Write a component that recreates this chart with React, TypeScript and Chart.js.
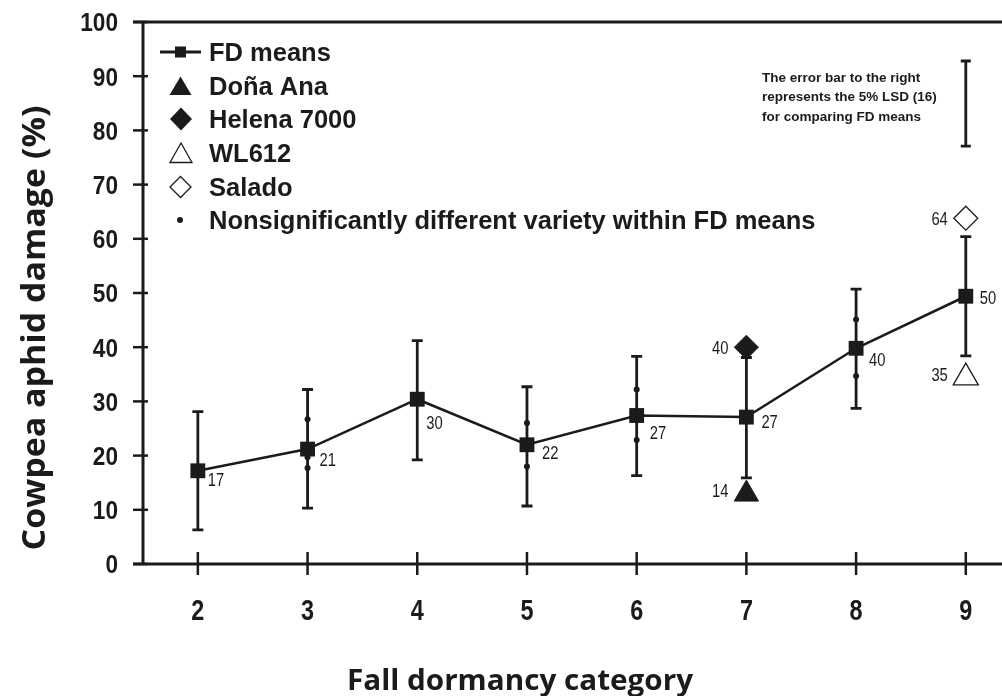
import React, { useEffect, useRef } from "react";
import { Chart, registerables } from "chart.js";

Chart.register(...registerables);

// ---------- data ----------
const categories = [2, 3, 4, 5, 6, 7, 8, 9];
const fdMeans = [17.2, 21.2, 30.4, 22.0, 27.4, 27.1, 39.8, 49.4];
const fdUpper = [28.1, 32.2, 41.2, 32.7, 38.3, 38.1, 50.7, 60.4];
const fdLower = [6.3, 10.3, 19.2, 10.7, 16.3, 15.9, 28.7, 38.4];
const fdLabels = ["17", "21", "30", "22", "27", "27", "40", "50"];

const nsX = [3, 3, 3, 5, 5, 6, 6, 8, 8];
const nsY = [26.7, 19.7, 17.7, 26.0, 18.0, 32.2, 22.9, 45.1, 34.7];

const donaAnaX = [7];
const donaAnaY = [12.9];
const donaAnaLabels = ["14"];

const helenaX = [7];
const helenaY = [40.0];
const helenaLabels = ["40"];

const wl612X = [9];
const wl612Y = [34.4];
const wl612Labels = ["35"];

const saladoX = [9];
const saladoY = [63.8];
const saladoLabels = ["64"];

const lsdX = 9;
const lsdTop = 92.8;
const lsdBottom = 77.1;

const yTicks = [0, 10, 20, 30, 40, 50, 60, 70, 80, 90, 100];
const xTicks = categories;

const legendLabels = [
  "FD means",
  "Doña Ana",
  "Helena 7000",
  "WL612",
  "Salado",
  "Nonsignificantly different variety within FD means",
];
const noteLines = [
  "The error bar to the right",
  "represents the 5% LSD (16)",
  "for comparing FD means",
];
const xTitle = "Fall dormancy category";
const yTitle = "Cowpea aphid damage (%)";

// ---------- style / layout ----------
const INK = "#1b1b1b";
// label offsets (px) relative to the FD point: [dx to label left, dy of label centre]
const fdLabelOffsets: [number, number][] = [
  [10, 9], [12, 10], [9, 23], [15, 8], [13, 17], [15, 4], [13, 11], [14, 1],
];

function pts(xs: number[], ys: number[]) {
  return xs.map((x, i) => ({ x, y: ys[i] }));
}

function drawText(
  ctx: CanvasRenderingContext2D,
  s: string,
  x: number,
  cy: number,
  size: number,
  weight: string,
  family: string,
  align: CanvasTextAlign,
  sx = 1,
  capRatio = 0.716
) {
  ctx.save();
  ctx.font = `${weight} ${size}px ${family}`;
  ctx.textAlign = align;
  ctx.textBaseline = "alphabetic";
  ctx.fillStyle = INK;
  ctx.translate(x, cy + (capRatio * size) / 2);
  ctx.scale(sx, 1);
  ctx.fillText(s, 0, 0);
  ctx.restore();
}

const SANS = "'Liberation Sans', Arial, sans-serif";
const HUMAN = "'Open Sans', 'Noto Sans', sans-serif";

const decor = {
  id: "decor",
  beforeDatasetsDraw(chart: any) {
    const ctx: CanvasRenderingContext2D = chart.ctx;
    const xs = chart.scales.x;
    const ys = chart.scales.y;
    const a = chart.chartArea;
    ctx.save();
    ctx.strokeStyle = INK;
    ctx.lineCap = "butt";

    // axes
    ctx.lineWidth = 3;
    ctx.beginPath();
    ctx.moveTo(a.left, a.top);
    ctx.lineTo(a.left, a.bottom);
    ctx.stroke();
    ctx.beginPath();
    ctx.moveTo(a.left - 10, a.bottom);
    ctx.lineTo(chart.width, a.bottom);
    ctx.stroke();
    ctx.beginPath();
    ctx.moveTo(a.left - 10, a.top);
    ctx.lineTo(chart.width, a.top);
    ctx.stroke();

    // ticks
    ctx.lineWidth = 2.5;
    yTicks.forEach((v) => {
      const py = ys.getPixelForValue(v);
      ctx.beginPath();
      ctx.moveTo(a.left - 10, py);
      ctx.lineTo(a.left + 5, py);
      ctx.stroke();
    });
    xTicks.forEach((v) => {
      const px = xs.getPixelForValue(v);
      ctx.beginPath();
      ctx.moveTo(px, a.bottom - 12);
      ctx.lineTo(px, a.bottom + 11);
      ctx.stroke();
    });

    // error bars
    ctx.lineWidth = 2.8;
    categories.forEach((c, i) => {
      const px = xs.getPixelForValue(c);
      const t = ys.getPixelForValue(fdUpper[i]);
      const b = ys.getPixelForValue(fdLower[i]);
      ctx.beginPath();
      ctx.moveTo(px, t);
      ctx.lineTo(px, b);
      ctx.moveTo(px - 5.5, t);
      ctx.lineTo(px + 5.5, t);
      ctx.moveTo(px - 5.5, b);
      ctx.lineTo(px + 5.5, b);
      ctx.stroke();
    });

    // LSD bar
    {
      const px = xs.getPixelForValue(lsdX);
      const t = ys.getPixelForValue(lsdTop);
      const b = ys.getPixelForValue(lsdBottom);
      ctx.beginPath();
      ctx.moveTo(px, t);
      ctx.lineTo(px, b);
      ctx.moveTo(px - 5, t);
      ctx.lineTo(px + 5, t);
      ctx.moveTo(px - 5, b);
      ctx.lineTo(px + 5, b);
      ctx.stroke();
    }
    ctx.restore();
  },
  afterDatasetsDraw(chart: any) {
    const ctx: CanvasRenderingContext2D = chart.ctx;
    const xs = chart.scales.x;
    const ys = chart.scales.y;

    // tick labels
    yTicks.forEach((v) => {
      drawText(ctx, String(v), 118, ys.getPixelForValue(v), 26, "bold", SANS, "right", 0.87);
    });
    xTicks.forEach((v) => {
      drawText(ctx, String(v), xs.getPixelForValue(v), 609, 30, "bold", SANS, "center", 0.78);
    });

    // FD labels
    categories.forEach((c, i) => {
      const px = xs.getPixelForValue(c) + fdLabelOffsets[i][0];
      const py = ys.getPixelForValue(fdMeans[i]) + fdLabelOffsets[i][1];
      drawText(ctx, fdLabels[i], px, py, 18, "normal", SANS, "left", 0.82);
    });
    // variety labels (left of marker)
    const varLabel = (xv: number[], yv: number[], lab: string[], dy: number) => {
      xv.forEach((x, i) => {
        const px = xs.getPixelForValue(x) - 18;
        const py = ys.getPixelForValue(yv[i]) + dy;
        drawText(ctx, lab[i], px, py, 18, "normal", SANS, "right", 0.82);
      });
    };
    varLabel(donaAnaX, donaAnaY, donaAnaLabels, -4);
    varLabel(helenaX, helenaY, helenaLabels, 0);
    varLabel(wl612X, wl612Y, wl612Labels, -3);
    varLabel(saladoX, saladoY, saladoLabels, 0);

    // legend
    const rows = [52, 86, 119, 153, 187, 220];
    ctx.save();
    ctx.fillStyle = INK;
    ctx.strokeStyle = INK;
    // FD means
    ctx.lineWidth = 3;
    ctx.beginPath();
    ctx.moveTo(160, rows[0]);
    ctx.lineTo(201, rows[0]);
    ctx.stroke();
    ctx.fillRect(175, rows[0] - 5.5, 11, 11);
    // Doña Ana
    ctx.beginPath();
    ctx.moveTo(180.5, rows[1] - 9.5);
    ctx.lineTo(191.5, rows[1] + 9);
    ctx.lineTo(169.5, rows[1] + 9);
    ctx.closePath();
    ctx.fill();
    // Helena
    ctx.beginPath();
    ctx.moveTo(181, rows[2] - 11.5);
    ctx.lineTo(192, rows[2]);
    ctx.lineTo(181, rows[2] + 11.5);
    ctx.lineTo(170, rows[2]);
    ctx.closePath();
    ctx.fill();
    // WL612
    ctx.lineWidth = 1.3;
    ctx.beginPath();
    ctx.moveTo(181, rows[3] - 10);
    ctx.lineTo(192, rows[3] + 9.5);
    ctx.lineTo(170, rows[3] + 9.5);
    ctx.closePath();
    ctx.stroke();
    // Salado
    ctx.beginPath();
    ctx.moveTo(180.5, rows[4] - 10.5);
    ctx.lineTo(191, rows[4]);
    ctx.lineTo(180.5, rows[4] + 10.5);
    ctx.lineTo(170, rows[4]);
    ctx.closePath();
    ctx.stroke();
    // dot
    ctx.beginPath();
    ctx.arc(180, rows[5], 3, 0, Math.PI * 2);
    ctx.fill();
    ctx.restore();
    legendLabels.forEach((s, i) => {
      drawText(ctx, s, 209, rows[i], 25.5, "bold", SANS, "left", 1);
    });

    // note
    const noteRows = [77, 96.5, 116];
    noteLines.forEach((s, i) => {
      drawText(ctx, s, 762, noteRows[i], 13.5, "bold", SANS, "left", 1);
    });

    // axis titles
    ctx.save();
    ctx.font = `bold 28px ${HUMAN}`;
    const wx = ctx.measureText(xTitle).width;
    ctx.restore();
    drawText(ctx, xTitle, 520, 680, 28, "bold", HUMAN, "center", 346 / wx);

    ctx.save();
    ctx.font = `bold 32px ${HUMAN}`;
    const wy = ctx.measureText(yTitle).width;
    ctx.fillStyle = INK;
    ctx.textAlign = "center";
    ctx.textBaseline = "alphabetic";
    ctx.translate(45, 328);
    ctx.rotate(-Math.PI / 2);
    ctx.scale(445 / wy, 1);
    ctx.fillText(yTitle, 0, 0);
    ctx.restore();
  },
};

export default function App() {
  const ref = useRef<HTMLCanvasElement>(null);
  useEffect(() => {
    const canvas = ref.current;
    if (!canvas) return;
    const chart = new Chart(canvas, {
      type: "line",
      data: {
        datasets: [
          {
            label: legendLabels[0],
            data: pts(categories, fdMeans),
            borderColor: INK,
            borderWidth: 2.5,
            pointStyle: "rect",
            pointRadius: 10.5,
            pointHoverRadius: 10.5,
            pointBackgroundColor: INK,
            pointBorderColor: INK,
            pointBorderWidth: 0,
            tension: 0,
            clip: false,
          } as any,
          {
            label: legendLabels[5],
            type: "scatter",
            data: pts(nsX, nsY),
            pointStyle: "circle",
            pointRadius: 3,
            pointBackgroundColor: INK,
            pointBorderColor: INK,
            pointBorderWidth: 0,
          } as any,
          {
            label: legendLabels[1],
            type: "scatter",
            data: pts(donaAnaX, donaAnaY),
            pointStyle: "triangle",
            pointRadius: 14,
            pointBackgroundColor: INK,
            pointBorderColor: INK,
            pointBorderWidth: 1,
          } as any,
          {
            label: legendLabels[2],
            type: "scatter",
            data: pts(helenaX, helenaY),
            pointStyle: "rectRot",
            pointRadius: 12,
            pointBackgroundColor: INK,
            pointBorderColor: INK,
            pointBorderWidth: 1,
          } as any,
          {
            label: legendLabels[3],
            type: "scatter",
            data: pts(wl612X, wl612Y),
            pointStyle: "triangle",
            pointRadius: 14.5,
            pointBackgroundColor: "#ffffff",
            pointBorderColor: INK,
            pointBorderWidth: 1.3,
          } as any,
          {
            label: legendLabels[4],
            type: "scatter",
            data: pts(saladoX, saladoY),
            pointStyle: "rectRot",
            pointRadius: 12,
            pointBackgroundColor: "#ffffff",
            pointBorderColor: INK,
            pointBorderWidth: 1.3,
          } as any,
        ],
      },
      options: {
        responsive: false,
        animation: false,
        events: [],
        layout: { autoPadding: false, padding: { top: 22, left: 0, right: 0, bottom: 0 } },
        plugins: {
          legend: { display: false },
          tooltip: { enabled: false },
        },
        scales: {
          x: {
            type: "linear",
            min: 1.5,
            max: 9.33,
            grid: { display: false },
            border: { display: false },
            ticks: { display: false, stepSize: 1 },
            afterFit: (s: any) => {
              s.height = 132;
            },
          },
          y: {
            type: "linear",
            min: 0,
            max: 100,
            grid: { display: false },
            border: { display: false },
            ticks: { display: false, stepSize: 10 },
            afterFit: (s: any) => {
              s.width = 143;
            },
          },
        },
      } as any,
      plugins: [decor],
    });
    return () => chart.destroy();
  }, []);
  return (
    <div
      style={{
        position: "fixed",
        left: 0,
        top: 0,
        width: 1002,
        height: 696,
        background: "#ffffff",
      }}
    >
      <canvas ref={ref} width={1002} height={696} style={{ display: "block" }} />
    </div>
  );
}
